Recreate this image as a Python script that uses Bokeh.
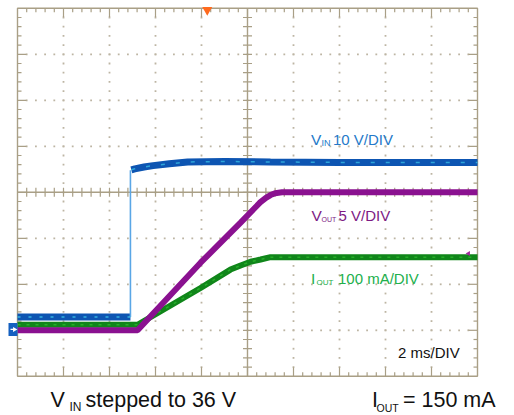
import numpy as np
from bokeh.plotting import figure
from bokeh.models import Range1d, Label
from bokeh.embed import file_html
from bokeh.resources import INLINE

# ---------------- data ----------------
MS_PER_DIV = 2.0
VIN_V_PER_DIV = 10.0
VOUT_V_PER_DIV = 5.0
IOUT_MA_PER_DIV = 100.0
VIN_OFFSET_DIV = -2.98
VOUT_OFFSET_DIV = -3.0
IOUT_OFFSET_DIV = -2.88
TRIGGER_MS = 8.25

vin_pre_t = [0.0, 4.91]
vin_pre_v = [2.7, 2.7]
vin_step_t = [4.91, 4.91]
vin_step_v = [2.7, 34.6]
vin_post_t = [4.95, 5.1, 5.5, 5.9, 6.6, 7.4, 9.0, 11.0, 14.0, 17.0, 20.0]
vin_post_v = [34.7, 34.9, 35.3, 35.6, 36.0, 36.4, 36.5, 36.4, 36.3, 36.3, 36.3]

vout_t = [0.0, 5.22, 7.96, 9.70, 10.55, 10.8, 11.0, 11.2, 11.5, 20.0]
vout_v = [0.0, 0.0, 7.35, 11.7, 13.9, 14.4, 14.7, 14.9, 15.0, 15.0]

iout_t = [0.0, 5.22, 7.96, 9.26, 9.7, 10.13, 10.57, 11.0, 20.0]
iout_ma = [0, 0, 80, 120, 129, 137, 142, 147, 147]

# ---------------- layout helpers ----------------
W, H = 514, 415
PX_PER_MS = 23.0
PX_PER_DIV = 46.0
LEFT_PX = 17.0      # page x of t = 0
CENTER_PX = 191.8   # page y of 0 div


def lx(px):
    return (px - LEFT_PX) / PX_PER_MS


def ly(py):
    return (CENTER_PX - py) / PX_PER_DIV


p = figure(width=W, height=H, output_backend="svg", toolbar_location=None,
           x_range=Range1d(lx(0), lx(W)), y_range=Range1d(ly(H), ly(0)),
           x_axis_type=None, y_axis_type=None, min_border=0)
p.grid.visible = False
p.outline_line_color = None
p.background_fill_color = "white"

TAN = "#a99f86"
DOT = "#bdb5a3"
T_END = 10 * MS_PER_DIV
T_MID = 5 * MS_PER_DIV

# dotted graticule
t_minor = np.round(np.arange(0, T_END + 1e-9, MS_PER_DIV / 5), 6)
y_minor = np.round(np.arange(-4, 4 + 1e-9, 0.2), 6)
gx, gy = [], []
for t in np.arange(1, 10) * MS_PER_DIV:
    if abs(t - T_MID) < 1e-9:
        continue
    for y in y_minor[1:-1]:
        gx.append(t); gy.append(y)
for y in [-3, -2, -1, 1, 2, 3]:
    for t in t_minor[1:-1]:
        gx.append(t); gy.append(y)
p.scatter(gx, gy, marker="square", size=1.8, fill_color=DOT, line_color=None)

# border
p.quad(left=[0], right=[T_END], bottom=[-4], top=[4], fill_color=None,
       line_color=TAN, line_width=1.4)
# centre axes
p.segment(x0=[0, T_MID], y0=[0, -4], x1=[T_END, T_MID], y1=[0, 4],
          line_color=TAN, line_width=1.4)

# ticks
sx0, sy0, sx1, sy1 = [], [], [], []
for t in t_minor[1:-1]:
    major = abs(t / MS_PER_DIV - round(t / MS_PER_DIV)) < 1e-6
    L = (9 if major else 4) / PX_PER_DIV
    sx0 += [t, t]; sx1 += [t, t]
    sy0 += [4, -4]; sy1 += [4 - L, -4 + L]
    c = 4.5 / PX_PER_DIV
    sx0.append(t); sx1.append(t); sy0.append(-c); sy1.append(c)
for y in y_minor[1:-1]:
    major = abs(y - round(y)) < 1e-6
    L = (9 if major else 4) / PX_PER_MS
    sx0 += [0, T_END]; sx1 += [L, T_END - L]
    sy0 += [y, y]; sy1 += [y, y]
    c = 4.5 / PX_PER_MS
    sx0.append(T_MID - c); sx1.append(T_MID + c); sy0.append(y); sy1.append(y)
p.segment(x0=sx0, y0=sy0, x1=sx1, y1=sy1, line_color=TAN, line_width=1.2)

# ---------------- traces ----------------
def vin_div(v):
    return np.array(v) / VIN_V_PER_DIV + VIN_OFFSET_DIV


BLUE = "#0d55b2"
p.line(vin_pre_t, vin_div(vin_pre_v), line_color=BLUE, line_width=7)
p.line(vin_post_t, vin_div(vin_post_v), line_color=BLUE, line_width=7)
p.line(vin_step_t, vin_div(vin_step_v), line_color="#5aa6e6", line_width=1.6)
p.line(vin_pre_t, vin_div(vin_pre_v), line_color="#3cc8ea", line_width=1.5,
       line_dash="3 8", alpha=0.8)
p.line(vin_post_t, vin_div(vin_post_v), line_color="#3cc8ea", line_width=1.5,
       line_dash="4 11", alpha=0.7)

iout_y = np.array(iout_ma) / IOUT_MA_PER_DIV + IOUT_OFFSET_DIV
p.line(iout_t, iout_y, line_color="#10861a", line_width=6)
p.line(iout_t, iout_y, line_color="#2fbf2f", line_width=1.5, line_dash="3 6", alpha=0.7)

vout_y = np.array(vout_v) / VOUT_V_PER_DIV + VOUT_OFFSET_DIV
p.line(vout_t, vout_y, line_color="#8a1190", line_width=6)

# markers
p.scatter([TRIGGER_MS], [ly(9.5)], marker="inverted_triangle", size=10,
          fill_color="#ff6a1e", line_color=None)
p.quad(left=[lx(8)], right=[lx(17)], bottom=[VIN_OFFSET_DIV - 6.5 / PX_PER_DIV],
       top=[VIN_OFFSET_DIV + 6.5 / PX_PER_DIV], fill_color="#1560c0", line_color=None)
p.segment(x0=[lx(10)], x1=[lx(14)], y0=[VIN_OFFSET_DIV], y1=[VIN_OFFSET_DIV],
          line_color="white", line_width=1.2)
p.scatter([lx(14)], [VIN_OFFSET_DIV], marker="triangle", angle=-np.pi / 2, size=5,
          fill_color="white", line_color=None)
p.scatter([lx(468)], [ly(253)], marker="triangle", angle=np.pi / 2, size=5,
          fill_color="#a0289c", line_color=None)

# ---------------- texts ----------------
FONT = "Liberation Sans"


def txt(px, py, s, size, color):
    # py is the wanted baseline; the label is drawn about 0.35 em below it
    y_adj = py - 0.35 * size
    p.add_layout(Label(x=lx(px), y=ly(y_adj), text=s, text_font=FONT,
                       text_font_size=f"{size}px", text_color=color,
                       text_baseline="alphabetic", text_align="left"))


C_VIN = "#2479c9"
txt(310.5, 144, "V", 15.5, C_VIN)
txt(321, 145.5, "IN", 9, C_VIN)
txt(332.5, 144, "10 V/DIV", 15, C_VIN)

C_VOUT = "#7d1a84"
txt(311, 220, "V", 15.5, C_VOUT)
txt(321, 221.5, "OUT", 7, C_VOUT)
txt(338, 220, "5 V/DIV", 15, C_VOUT)

C_IOUT = "#21b04c"
txt(310.5, 283.5, "I", 15.5, C_IOUT)
txt(316, 285, "OUT", 8, C_IOUT)
txt(337.5, 283.5, "100 mA/DIV", 15, C_IOUT)

txt(397.5, 357.5, "2 ms/DIV", 15, "#111111")

txt(50, 407, "V", 21.5, "#111111")
txt(69, 411, "IN", 12, "#111111")
txt(85, 407, "stepped to 36 V", 21.5, "#111111")

txt(371.5, 407.5, "I", 21.5, "#111111")
txt(376, 411.5, "OUT", 10.5, "#111111")
txt(402.5, 407.5, "= 150 mA", 21.5, "#111111")

open("out.html", "w").write(file_html(p, INLINE))
